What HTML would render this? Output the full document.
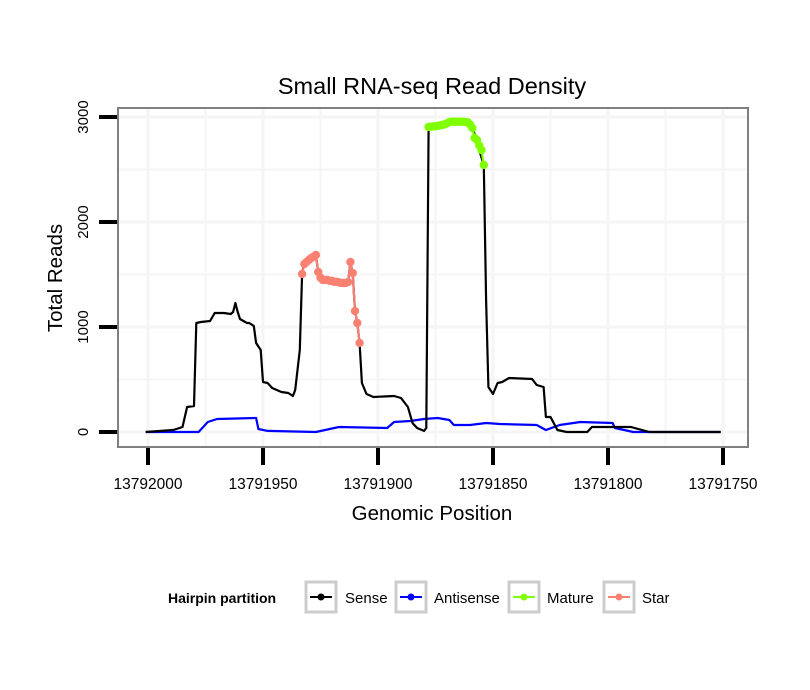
<!DOCTYPE html>
<html><head><meta charset="utf-8"><style>
body{margin:0;background:#fff;}
svg{display:block;font-family:"Liberation Sans",Arial,sans-serif;}
</style></head><body>
<svg id="chart" width="810" height="690" viewBox="0 0 810 690">
<rect width="810" height="690" fill="#fff"/>
<text x="432" y="94" text-anchor="middle" font-size="23.5">Small RNA-seq Read Density</text>
<g id="grid"></g>
<g id="series"></g>
<rect x="118" y="108" width="630" height="339" fill="none" stroke="#808080" stroke-width="2"/>
<g id="axes"></g>
<text x="432" y="520" text-anchor="middle" font-size="20.5">Genomic Position</text>
<text transform="translate(62,278) rotate(-90)" text-anchor="middle" font-size="20.5">Total Reads</text>
<g>
<text x="168" y="603" font-size="14" font-weight="bold">Hairpin partition</text>
<g><rect x="306" y="582" width="30" height="30" fill="#fff" stroke="#ccc" stroke-width="3"/><line x1="310" y1="597" x2="332" y2="597" stroke="#000" stroke-width="2"/><circle cx="321" cy="597" r="3.5" fill="#000"/><text x="345" y="603" font-size="15">Sense</text></g>
<g><rect x="396" y="582" width="30" height="30" fill="#fff" stroke="#ccc" stroke-width="3"/><line x1="400" y1="597" x2="422" y2="597" stroke="#0000ff" stroke-width="2"/><circle cx="411" cy="597" r="3.5" fill="#0000ff"/><text x="434" y="603" font-size="15">Antisense</text></g>
<g><rect x="509" y="582" width="30" height="30" fill="#fff" stroke="#ccc" stroke-width="3"/><line x1="513" y1="597" x2="535" y2="597" stroke="#7fff00" stroke-width="2"/><circle cx="524" cy="597" r="3.5" fill="#7fff00"/><text x="547" y="603" font-size="15">Mature</text></g>
<g><rect x="604" y="582" width="30" height="30" fill="#fff" stroke="#ccc" stroke-width="3"/><line x1="608" y1="597" x2="630" y2="597" stroke="#fa8072" stroke-width="2"/><circle cx="619" cy="597" r="3.5" fill="#fa8072"/><text x="642" y="603" font-size="15">Star</text></g>
</g>
</svg>
<script>
const xTicks=[13792000,13791950,13791900,13791850,13791800,13791750];
const yTicks=[0,1000,2000,3000];
const sensePos=[13792001,13791989,13791985,13791983,13791980,13791979,13791977,13791973,13791971,13791967,13791964,13791963,13791962,13791961,13791960,13791957,13791956,13791954,13791953,13791951,13791950,13791948,13791946,13791942,13791939,13791937,13791936,13791934,13791933,13791932,13791929,13791927,13791926,13791924,13791915,13791913,13791912,13791911,13791910,13791909,13791908,13791907,13791905,13791902,13791893,13791890,13791887,13791885,13791883,13791880,13791879,13791878,13791872,13791869,13791861,13791859,13791857,13791856,13791854,13791853,13791852,13791850,13791848,13791846,13791843,13791833,13791831,13791828,13791827,13791825,13791822,13791818,13791809,13791807,13791790,13791782,13791751];
const senseReads=[0,19,48,238,248,1038,1048,1057,1133,1133,1124,1143,1229,1143,1076,1038,1038,1010,848,781,476,467,419,381,371,343,400,781,1505,1619,1657,1686,1524,1448,1419,1429,1619,1514,1152,1038,848,467,362,333,343,324,238,86,38,10,38,2905,2924,2952,2952,2895,2781,2686,2543,1257,429,362,467,476,514,505,448,429,143,143,19,0,0,48,48,0,0];
const antiPos=[13792001,13791978,13791974,13791970,13791953,13791952,13791948,13791927,13791921,13791917,13791896,13791893,13791886,13791880,13791874,13791869,13791867,13791860,13791853,13791847,13791831,13791827,13791821,13791812,13791798,13791797,13791789,13791751];
const antiReads=[0,0,95,124,133,29,10,0,29,48,38,95,105,124,133,114,67,67,86,76,67,19,67,95,86,38,0,0];
const maturePos=[13791878,13791877,13791876,13791875,13791874,13791873,13791872,13791871,13791870,13791869,13791868,13791867,13791866,13791865,13791864,13791863,13791862,13791861,13791860,13791859,13791858,13791857,13791856,13791855,13791854];
const matureReads=[2905,2908,2910,2912,2915,2920,2924,2930,2940,2952,2955,2955,2955,2955,2955,2955,2952,2950,2930,2895,2800,2781,2730,2686,2543];
const starPos=[13791933,13791932,13791931,13791930,13791929,13791928,13791927,13791926,13791925,13791924,13791923,13791922,13791921,13791920,13791919,13791918,13791917,13791916,13791915,13791914,13791913,13791912,13791911,13791910,13791909,13791908];
const starReads=[1505,1600,1620,1640,1657,1670,1686,1524,1470,1448,1448,1448,1440,1440,1430,1430,1425,1420,1419,1420,1429,1619,1514,1152,1038,848];
const NS='http://www.w3.org/2000/svg';
function X(p){return 148+(13792000-p)*2.3;}
function Y(v){return 432-v*0.105;}
function mk(tag,attrs,parent){const e=document.createElementNS(NS,tag);for(const k in attrs)e.setAttribute(k,attrs[k]);parent.appendChild(e);return e;}
const grid=document.getElementById('grid'),axes=document.getElementById('axes'),ser=document.getElementById('series');
for(let v=0;v<=3000;v+=500){const l=mk('line',{x1:118,x2:748,y1:Y(v),y2:Y(v),stroke:'#f5f5f5','stroke-width':v%1000?2:3},grid);

}
for(let p=13792000;p>=13791750;p-=25){const l=mk('line',{x1:X(p),x2:X(p),y1:108,y2:447,stroke:'#f5f5f5','stroke-width':p%50?2:3},grid);

}
yTicks.forEach(v=>{const t=mk('line',{x1:99,x2:117,y1:Y(v),y2:Y(v),stroke:'#000','stroke-width':4},axes);


const tx=mk('text',{transform:`translate(88,${Y(v)}) rotate(-90)`,'text-anchor':'middle','font-size':15},axes);tx.textContent=v;

});
xTicks.forEach(p=>{const t=mk('line',{x1:X(p),x2:X(p),y1:448,y2:465,stroke:'#000','stroke-width':4},axes);


const tx=mk('text',{x:X(p),y:489,'text-anchor':'middle','font-size':15.5},axes);tx.textContent=p;

});
function line(ps,rs,color,name){const d=ps.map((p,i)=>(i?'L':'M')+X(p).toFixed(1)+','+Y(rs[i]).toFixed(1)).join('');
const e=mk('path',{d:d,fill:'none',stroke:color,'stroke-width':2.2,'stroke-linejoin':'round'},ser);

}
function pts(ps,rs,color,name){ps.forEach((p,i)=>{const c=mk('circle',{cx:X(p),cy:Y(rs[i]),r:4.2,fill:color},ser);

});}
line(antiPos,antiReads,'#0000ff','antisense-line');
line(sensePos,senseReads,'#000','sense-line');
line(starPos,starReads,'#fa8072','star-line');
pts(starPos,starReads,'#fa8072','star-point');
line(maturePos,matureReads,'#7fff00','mature-line');
pts(maturePos,matureReads,'#7fff00','mature-point');
</script>
</body></html>
